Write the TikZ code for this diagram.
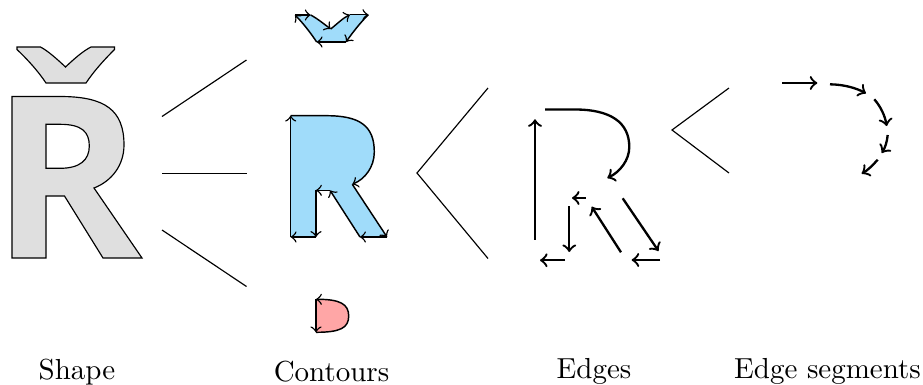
\documentclass[tikz,border=0pt]{standalone}
\usepackage{tikz}
\usepackage{xcolor}
\definecolor{contourblue}{RGB}{160,220,250}
\definecolor{contourred}{RGB}{255,166,166}
\begin{document}
\begin{tikzpicture}[x=0.345pt, y=-0.345pt,
  label/.style={anchor=base},
  fan/.style={draw, line width=0.4pt},
  shapefill/.style={draw, line width=0.4pt, fill=gray!25, even odd rule},
  seg/.style={->, line width=0.5pt},
  edge/.style={->, thick}]
\useasboundingbox (0,0) rectangle (923,385);
% shape
\path[shapefill] (12,96.5) -- (60,96.5) .. controls (105,96.5) and (124,110) .. (124,145)
  .. controls (124,165) and (112,181) .. (94,188) -- (142,258) -- (103,258) -- (64.5,196)
  -- (46,196) -- (46,258) -- (12,258) -- cycle
  (46,124.3) -- (60,124.3) .. controls (82,124.3) and (89.3,132) .. (89.3,146)
  .. controls (89.3,160) and (80,168.3) .. (60,168.3) -- (46,168.3) -- cycle;
\path[shapefill] (17,47) -- (40.5,47) .. controls (48,51) and (57,59) .. (65.5,67)
  .. controls (74,59) and (83,51) .. (91,47) -- (114.5,47) -- (114.5,49.5)
  .. controls (104,60) and (94,71) .. (86,83) -- (46,83)
  .. controls (38,71) and (28,60) .. (17,49.5) -- cycle;
% fans
\coordinate (shapeR) at (162,173.3);
\coordinate (shapeA) at (162,116.5);
\coordinate (shapeB) at (162,230);
\coordinate (contA) at (246.5,60);
\coordinate (contB) at (246.5,173.3);
\coordinate (contC) at (246.5,286.5);
\coordinate (contR) at (417,173);
\coordinate (edgeA) at (488,88);
\coordinate (edgeB) at (488,258.5);
\coordinate (segR) at (672,130);
\coordinate (segA) at (729,88);
\coordinate (segB) at (729,173);
\draw[fan] (shapeA) -- (contA);
\draw[fan] (shapeR) -- (contB);
\draw[fan] (shapeB) -- (contC);
\draw[fan] (edgeA) -- (contR) -- (edgeB);
\draw[fan] (segA) -- (segR) -- (segB);
% contours
\fill[contourblue] (295,15) -- (310.7,15) -- (330.7,29) -- (350,14.7) -- (368.3,14.7) -- (346,42) -- (316.7,42) -- cycle;
\draw[seg] (295,15) -- (310.7,15);
\draw[seg] (310.7,15) .. controls (318,19) and (324,24) .. (330.7,29);
\draw[seg] (330.7,29) .. controls (337,24) and (343,18) .. (350,14.7);
\draw[seg] (350,14.7) -- (368.3,14.7);
\draw[seg] (368.3,14.7) .. controls (360,23) and (353,32) .. (346,42);
\draw[seg] (346,42) -- (316.7,42);
\draw[seg] (316.7,42) .. controls (310,32) and (303,23) .. (295,15);
\fill[contourblue] (290.7,115.7) -- (326.5,115.7) .. controls (360,115.7) and (374.3,126) .. (374.3,152)
  .. controls (374.3,167) and (365,179) .. (352.3,184.3) -- (387,237) -- (360,237) -- (330,190.3)
  -- (316,190.3) -- (316,237) -- (290.7,237) -- cycle;
\draw[seg] (290.7,237) -- (290.7,115.7);
\draw[seg] (290.7,115.7) -- (326.5,115.7) .. controls (360,115.7) and (374.3,126) .. (374.3,152)
  .. controls (374.3,167) and (365,179) .. (352.3,184.3);
\draw[seg] (352.3,184.3) -- (387,237);
\draw[seg] (387,237) -- (360,237);
\draw[seg] (360,237) -- (330,190.3);
\draw[seg] (330,190.3) -- (316,190.3);
\draw[seg] (316,190.3) -- (316,237);
\draw[seg] (316,237) -- (290.7,237);
\fill[contourred] (316,299.3) .. controls (340,299.3) and (348.7,304) .. (348.7,316)
  .. controls (348.7,328) and (340,332.3) .. (316,332.3) -- cycle;
\draw[seg] (316,299.3) -- (316,332.3);
\draw[seg] (316,332.3) .. controls (340,332.3) and (348.7,328) .. (348.7,316)
  .. controls (348.7,304) and (340,299.3) .. (316,299.3);
% edges
\draw[edge] (535,239.5) -- (535,119.3);
\draw[edge] (545,109.5) -- (575,109.5) .. controls (610,109.5) and (629.3,122) .. (629.3,147)
  .. controls (629.3,160) and (620,172) .. (607.3,178);
\draw[edge] (622.7,198.3) -- (658.5,251);
\draw[edge] (660,260) -- (631.7,260);
\draw[edge] (621,252.3) -- (591.7,206.7);
\draw[edge] (585.7,198) -- (572,198);
\draw[edge] (569.3,206) -- (569.3,252);
\draw[edge] (565,260.3) -- (540,260.3);
% edge segments
\draw[edge] (782.3,83) -- (817.3,83);
\draw[edge] (830,84.3) .. controls (844,84.5) and (856,88) .. (866,93.3);
\draw[edge] (874.3,99.3) .. controls (881,107) and (885,116) .. (886.7,126);
\draw[edge] (887.7,135) .. controls (887,142) and (885,148) .. (881.7,153);
\draw[edge] (877.7,159.7) .. controls (873,165) and (868,170) .. (861.7,173.7);
% captions
\node[label] (shapeLabel) at (77,379) {Shape};
\node[label] (contoursLabel) at (331.5,381) {Contours};
\node[label] (edgesLabel) at (594,378) {Edges};
\node[label] (segmentsLabel) at (827.5,378) {Edge segments};
\end{tikzpicture}
\end{document}
